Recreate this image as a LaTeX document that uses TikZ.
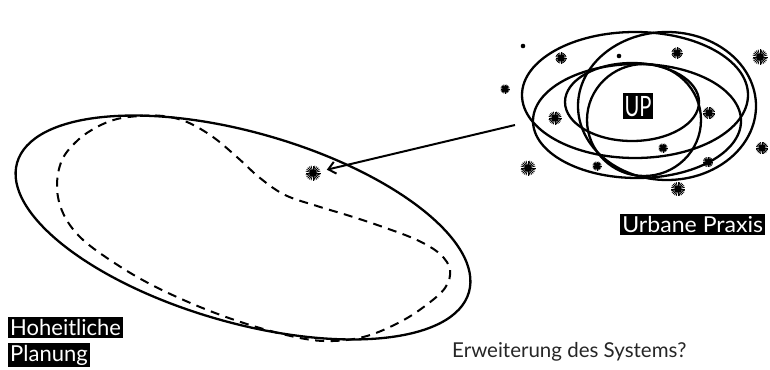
\documentclass[tikz,border=0pt]{standalone}
\usepackage{fontspec}
\setmainfont{Lato}
\usetikzlibrary{arrows.meta}
\newcommand\burst[3]{%
  \foreach \ang in {0,15,...,345}{\draw[line width=0.8pt] (#1,#2) -- ++(\ang:#3pt);}
  \fill (#1,#2) circle (#3pt*0.5);}
\newcommand\tinydot[2]{\fill (#1,#2) circle (2.3pt);}
\tikzset{
  outline/.style={line width=2.3pt, black},
  kidney/.style={line width=2pt, dash pattern=on 9pt off 6.5pt},
  lab/.style={fill=black, text=white, inner xsep=2pt, inner ysep=2.5pt,
    font=\fontsize{22}{22}\selectfont, text height=16pt, text depth=0pt},
  uplab/.style={fill=black, text=white, inner xsep=1.5pt, inner ysep=3pt,
    font=\fontsize{28}{28}\selectfont, text height=20pt, text depth=0pt, xscale=0.72},
  question/.style={font=\fontsize{20.5}{20.5}\selectfont, text=black!85, inner sep=0pt},
  conn/.style={line width=2pt, -{Straight Barb[length=7pt,width=12pt,line width=2pt]}}
}
\begin{document}
\begin{tikzpicture}[x=1pt,y=-1pt]
\useasboundingbox (0,0) rectangle (770,369);
% big ellipse (Hoheitliche Planung)
\draw[outline, rotate around={-16:(243,227.5)}] (243,227.5) ellipse [x radius=235pt, y radius=95pt];
% dashed kidney
\draw[kidney] plot[smooth cycle, tension=0.6] coordinates {
 (117,119) (140,116) (163,116) (187,122) (213,137) (238,158) (260,178) (285,195)
 (317,206) (350,216) (383,227) (417,240) (440,254) (450,270) (445,288) (425,306)
 (400,322) (367,336) (333,341) (300,338) (250,325) (200,307) (150,284) (110,260)
 (80,237) (63,213) (57,187) (62,160) (78,140) (97,127)};
% cluster of ellipses (Urbane Praxis)
\draw[outline] (635,95) ellipse [x radius=113pt, y radius=63pt];
\draw[outline] (667,106) ellipse [x radius=89pt, y radius=74pt];
\draw[outline] (637,121) ellipse [x radius=104pt, y radius=57pt];
\draw[outline] (632,102) ellipse [x radius=67pt, y radius=39pt];
\draw[outline] (644,120) ellipse [x radius=57pt, y radius=56pt];
% stars
\tinydot{523}{46}
\tinydot{619}{56}
\burst{561}{58}{5.5}
\burst{677}{53}{5.5}
\burst{760}{57}{7.5}
\burst{505}{89}{4.5}
\burst{555}{118}{6.5}
\burst{709}{113}{6}
\burst{762}{148}{6}
\burst{663}{148}{4.5}
\burst{708}{162}{5}
\burst{597}{166}{4.5}
\burst{528}{168}{7.5}
\burst{678}{189}{7}
\burst{313}{173}{7.5}
% target and arrow
\node[circle, inner sep=0pt, minimum size=28pt] (target) at (313,173) {};
\coordinate (astart) at (515,125);
\draw[conn] (astart) -- (target);
% labels
\node[uplab] (up) at (638,106) {UP};
\node[lab, anchor=north west, xscale=1.05] (urb) at (620,214) {Urbane Praxis};
\node[lab, anchor=north west] (hp1) at (8,317) {Hoheitliche};
\node[lab, anchor=north west, text depth=3pt] (hp2) at (8,343) {Planung};
\node[question, anchor=base west] (q) at (452,357) {Erweiterung des Systems?};
\end{tikzpicture}
\end{document}
